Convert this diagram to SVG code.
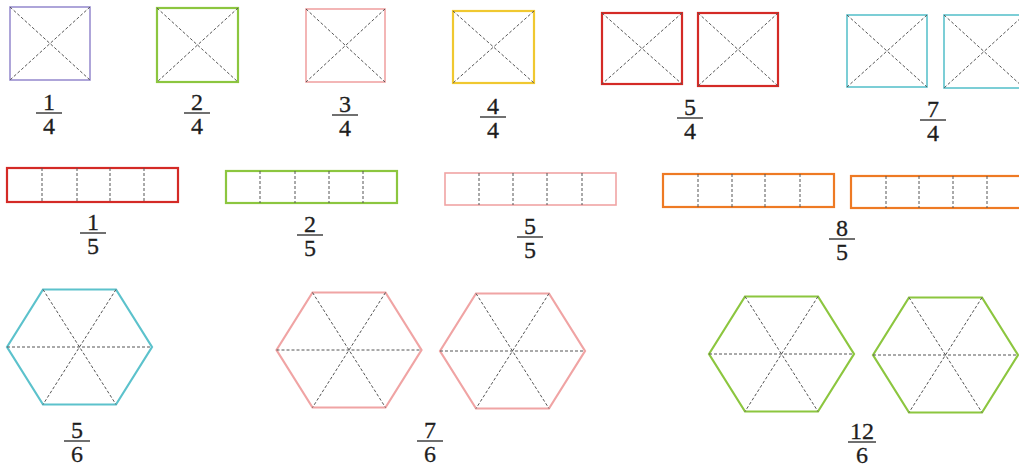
<svg xmlns="http://www.w3.org/2000/svg" xmlns:xlink="http://www.w3.org/1999/xlink" width="1019" height="468" viewBox="0 0 1019 468">
<style>
.o{fill:none;stroke-width:2.2;stroke-linejoin:miter}
.thin{stroke-width:1.6}
.d{fill:none;stroke:#555;stroke-width:1;stroke-dasharray:3 2}
.t{font-family:"Liberation Serif","DejaVu Serif",serif;font-size:24px;fill:#1e1e1e;text-anchor:middle;stroke:#1e1e1e;stroke-width:0.3}
.bar{stroke:#333;stroke-width:1.4}
.purple{stroke:#9a8fd0}
.lime{stroke:#8cc63f}
.pink{stroke:#f0a4a4}
.yellow{stroke:#f0c830}
.red{stroke:#d42a26}
.cyan{stroke:#5cc2cc}
.orange{stroke:#ee7a24}
</style>
<defs>
<g id="hex">
<polygon class="o" points="-72.5,0 -36.5,-57.5 36.5,-57.5 72.5,0 36.5,57.5 -36.5,57.5"/>
<line class="d" x1="-72.5" y1="0" x2="72.5" y2="0"/>
<line class="d" x1="-36.5" y1="-57.5" x2="36.5" y2="57.5"/>
<line class="d" x1="36.5" y1="-57.5" x2="-36.5" y2="57.5"/>
</g>
</defs>
<rect width="1019" height="468" fill="#ffffff"/>

<!-- Row 1: squares -->
<g id="sq-1-4">
<rect class="o thin purple" x="10" y="7" width="80" height="73"/>
<path class="d" d="M10,7 L90,80 M90,7 L10,80"/>
</g>
<g id="sq-2-4">
<rect class="o lime" x="157" y="8" width="81" height="74"/>
<path class="d" d="M157,8 L238,82 M238,8 L157,82"/>
</g>
<g id="sq-3-4">
<rect class="o thin pink" x="306" y="9" width="79" height="73"/>
<path class="d" d="M306,9 L385,82 M385,9 L306,82"/>
</g>
<g id="sq-4-4">
<rect class="o yellow" x="453" y="11" width="81" height="72"/>
<path class="d" d="M453,11 L534,83 M534,11 L453,83"/>
</g>
<g id="sq-5-4">
<rect class="o red" x="602" y="13" width="80" height="71"/>
<path class="d" d="M602,13 L682,84 M682,13 L602,84"/>
<rect class="o red" x="698" y="13" width="80" height="73"/>
<path class="d" d="M698,13 L778,86 M778,13 L698,86"/>
</g>
<g id="sq-7-4">
<rect class="o thin cyan" x="847" y="15" width="80" height="72"/>
<path class="d" d="M847,15 L927,87 M927,15 L847,87"/>
<rect class="o thin cyan" x="944" y="15" width="80" height="73"/>
<path class="d" d="M944,15 L1024,88 M1024,15 L944,88"/>
</g>

<g id="lbl-1-4"><text class="t" x="49" y="110">1</text><line class="bar" x1="36" y1="113" x2="62" y2="113"/><text class="t" x="49" y="134">4</text></g>
<g id="lbl-2-4"><text class="t" x="197" y="110">2</text><line class="bar" x1="184" y1="113" x2="210" y2="113"/><text class="t" x="197" y="134">4</text></g>
<g id="lbl-3-4"><text class="t" x="345" y="112">3</text><line class="bar" x1="332" y1="115" x2="358" y2="115"/><text class="t" x="345" y="136">4</text></g>
<g id="lbl-4-4"><text class="t" x="493" y="114">4</text><line class="bar" x1="480" y1="117" x2="506" y2="117"/><text class="t" x="493" y="138">4</text></g>
<g id="lbl-5-4"><text class="t" x="690" y="115">5</text><line class="bar" x1="677" y1="118" x2="703" y2="118"/><text class="t" x="690" y="139">4</text></g>
<g id="lbl-7-4"><text class="t" x="933" y="117">7</text><line class="bar" x1="920" y1="120" x2="946" y2="120"/><text class="t" x="933" y="141">4</text></g>

<!-- Row 2: bars -->
<g id="bar-1-5">
<rect class="o red" x="7" y="168" width="171" height="34"/>
<path class="d" d="M42,168 V202 M77,168 V202 M110,168 V202 M144,168 V202"/>
</g>
<g id="bar-2-5">
<rect class="o lime" x="226" y="171" width="171" height="32"/>
<path class="d" d="M260,171 V203 M295,171 V203 M329,171 V203 M363,171 V203"/>
</g>
<g id="bar-5-5">
<rect class="o thin pink" x="445" y="173" width="171" height="32"/>
<path class="d" d="M479,173 V205 M513,173 V205 M547,173 V205 M582,173 V205"/>
</g>
<g id="bar-8-5">
<rect class="o orange" x="663" y="174" width="171" height="33"/>
<path class="d" d="M698,174 V207 M732,174 V207 M765,174 V207 M800,174 V207"/>
<rect class="o orange" x="851" y="176" width="171" height="32"/>
<path class="d" d="M886,176 V208 M919,176 V208 M953,176 V208 M987,176 V208"/>
</g>

<g id="lbl-1-5"><text class="t" x="93" y="230">1</text><line class="bar" x1="80" y1="233" x2="106" y2="233"/><text class="t" x="93" y="254">5</text></g>
<g id="lbl-2-5"><text class="t" x="310" y="232">2</text><line class="bar" x1="297" y1="235" x2="323" y2="235"/><text class="t" x="310" y="256">5</text></g>
<g id="lbl-5-5"><text class="t" x="530" y="234">5</text><line class="bar" x1="517" y1="237" x2="543" y2="237"/><text class="t" x="530" y="258">5</text></g>
<g id="lbl-8-5"><text class="t" x="842" y="236">8</text><line class="bar" x1="829" y1="239" x2="855" y2="239"/><text class="t" x="842" y="260">5</text></g>

<!-- Row 3: hexagons -->
<g id="hex-5-6"><use xlink:href="#hex" class="cyan" x="79.5" y="347" style="stroke-width:1.6"/></g>
<g id="hex-7-6">
<use xlink:href="#hex" class="pink" x="349" y="350"/>
<use xlink:href="#hex" class="pink" x="512.5" y="351"/>
</g>
<g id="hex-12-6">
<use xlink:href="#hex" class="lime" x="781.5" y="354"/>
<use xlink:href="#hex" class="lime" x="945.5" y="355"/>
</g>

<g id="lbl-5-6"><text class="t" x="77" y="438">5</text><line class="bar" x1="64" y1="441" x2="90" y2="441"/><text class="t" x="77" y="462">6</text></g>
<g id="lbl-7-6"><text class="t" x="430" y="438">7</text><line class="bar" x1="417" y1="441" x2="443" y2="441"/><text class="t" x="430" y="462">6</text></g>
<g id="lbl-12-6"><text class="t" x="862" y="439">12</text><line class="bar" x1="848" y1="442" x2="876" y2="442"/><text class="t" x="862" y="463">6</text></g>
</svg>
